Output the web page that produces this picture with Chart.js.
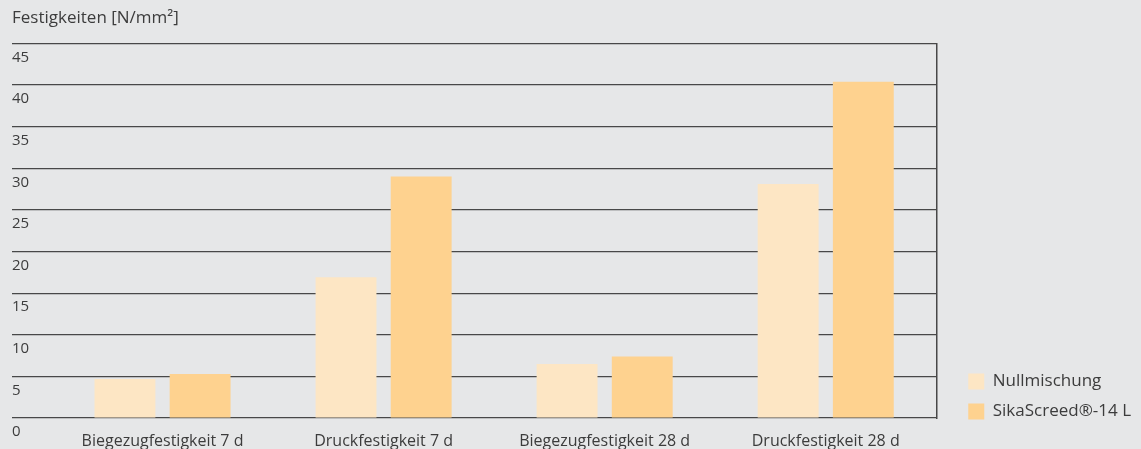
<!DOCTYPE html>
<html>
<head>
<meta charset="utf-8">
<script src="https://cdn.jsdelivr.net/npm/chart.js@4/dist/chart.umd.min.js"></script>
<style>
  html, body { margin: 0; padding: 0; background: #e6e7e8; overflow: hidden; }
  #wrap { width: 1141px; height: 460px; position: relative; }
</style>
</head>
<body>
<div id="wrap"><canvas id="c"></canvas></div>
<script>
const categories = ["Biegezugfestigkeit 7 d", "Druckfestigkeit 7 d", "Biegezugfestigkeit 28 d", "Druckfestigkeit 28 d"];
const nullmischung = [4.7, 16.9, 6.5, 28.1];
const sikaScreed = [5.3, 29.0, 7.4, 40.4];
const seriesNames = ["Nullmischung", "SikaScreed®-14 L"];
const yTitle = "Festigkeiten [N/mm²]";
const yMin = 0, yMax = 45, yStep = 5;

const textColor = '#3c3c3c';
const gridColor = '#484848';

new Chart(document.getElementById('c'), {
  type: 'bar',
  data: {
    labels: categories,
    datasets: [
      { label: seriesNames[0], data: nullmischung, backgroundColor: '#fde6c4', borderWidth: 0,
        categoryPercentage: 0.68, barPercentage: 0.81, yAxisID: 'y' },
      { label: seriesNames[1], data: sikaScreed, backgroundColor: '#fed28f', borderWidth: 0,
        categoryPercentage: 0.68, barPercentage: 0.81, yAxisID: 'y' }
    ]
  },
  options: {
    responsive: true,
    maintainAspectRatio: false,
    animation: false,
    layout: { padding: { left: 12, right: 0, top: 0, bottom: 0 } },
    plugins: {
      title: {
        display: true, text: yTitle, align: 'start', color: textColor,
        font: { family: 'Open Sans', size: 17, weight: 'normal' },
        padding: { top: 8, bottom: 15 }
      },
      legend: {
        position: 'right', align: 'start', fullSize: true,
        title: { display: true, text: ' ', font: { size: 10 }, padding: { top: 0, bottom: 348 } },
        labels: {
          boxWidth: 16, boxHeight: 16, padding: 13, color: textColor,
          font: { family: 'Open Sans', size: 17 }
        }
      },
      tooltip: { enabled: false }
    },
    scales: {
      x: {
        type: 'category', offset: true,
        grid: { display: false }, border: { display: false },
        ticks: { color: textColor, font: { family: 'Open Sans', size: 16 }, padding: 6, maxRotation: 0, autoSkip: false },
        afterFit: (s) => { s.height = 42; }
      },
      y: {
        position: 'left', min: yMin, max: yMax,
        grid: { color: gridColor, lineWidth: 1.2, drawTicks: true, tickLength: 40, tickColor: gridColor, tickWidth: 1.2 },
        border: { display: false },
        ticks: { stepSize: yStep, color: textColor, font: { family: 'Open Sans', size: 15 },
                 crossAlign: 'far', labelOffset: 14, padding: 0 },
        afterFit: (s) => { s.width = 40; }
      },
      y2: {
        position: 'right', min: yMin, max: yMax,
        grid: { display: false, drawTicks: false },
        border: { display: true, color: gridColor, width: 1.5 },
        ticks: { display: false },
        afterFit: (s) => { s.width = 19; }
      }
    }
  }
});
</script>
</body>
</html>
